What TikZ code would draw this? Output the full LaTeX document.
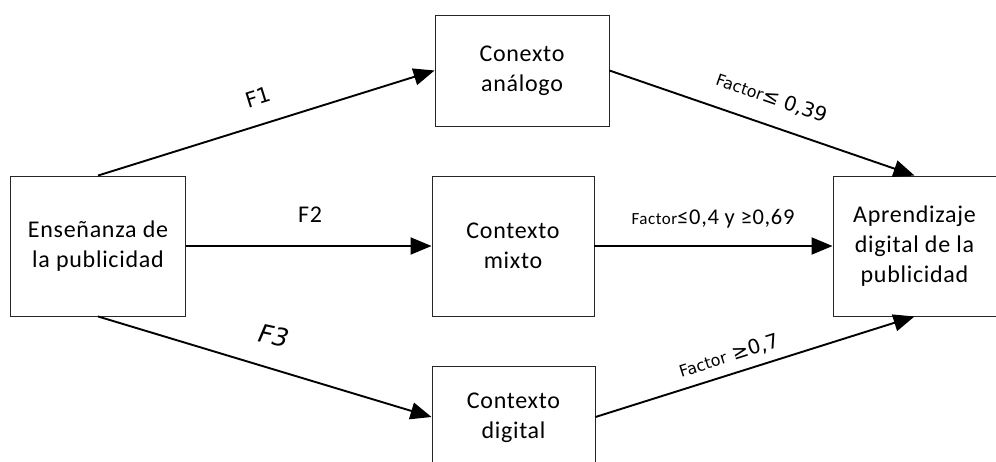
\documentclass[tikz,border=0pt]{standalone}
\usepackage{fontspec}
\setmainfont{Carlito}[LetterSpace=3]
\newfontfamily\dejavu{DejaVu Sans}
\usetikzlibrary{arrows.meta}
\tikzset{
  frame/.style={draw=black!85, line width=0.9pt, inner sep=0pt},
  btext/.style={align=center, inner sep=0pt, font=\fontsize{24}{30}\selectfont},
  box/.style={frame, btext},
  flow/.style={line width=1.9pt, -{Triangle[length=21pt,width=17pt]}},
  lbl/.style={inner sep=0pt, font=\fontsize{24}{26}\selectfont},
  dlbl/.style={inner sep=0pt, font=\dejavu\fontsize{20}{22}\selectfont},
}
\newcommand{\smallfactor}[1]{{\fontsize{#1}{20}\selectfont Factor}}
\begin{document}
\begin{tikzpicture}[x=1pt,y=-1pt]
  \useasboundingbox (0,0) rectangle (996,461);
  \begin{scope}
    \clip (0,0) rectangle (996,461);
    \node[box, minimum width=175pt, minimum height=140pt] (L) at (98,246) {Enseñanza de\\la publicidad};
    \node[box, minimum width=174pt, minimum height=111pt] (T) at (522,70.5) {Conexto\\análogo};
    \node[box, minimum width=162pt, minimum height=140pt] (M) at (513,246) {Contexto\\mixto};
    \node[frame, minimum width=163pt, minimum height=102pt] (B) at (513.5,417) {};
    \node[btext] (Btext) at (513.5,418) {Contexto\\digital};
    \node[box, minimum width=163pt, minimum height=140pt] (R) at (914.5,246) {Aprendizaje\\digital de la\\publicidad};
  \end{scope}

  \draw[flow] (L.north) -- (T.west);
  \draw[flow] (L.east) -- (M.west);
  \draw[flow] (L.south) -- (B.west);
  \draw[flow] (T.east) -- (R.north);
  \draw[flow] (M.east) -- (R.west);
  \draw[flow] (B.east) -- (R.south);

  \node[dlbl, font=\dejavu\fontsize{21}{24}\selectfont, rotate=17.3] (f1) at (258,97) {F1};
  \node[lbl] (f2) at (310,215) {F2};
  \node[dlbl, font=\dejavu\itshape\fontsize{25}{27}\selectfont, rotate=-12] (f3) at (274,336) {F3};
  \node[dlbl, rotate=-19.2] (l1) at (772,98) {\smallfactor{16}≤ 0,39};
  \node[lbl, font=\fontsize{22.5}{24}\selectfont] (l2) at (713,219) {\smallfactor{17}≤0,4 y ≥0,69};
  \node[dlbl, rotate=17.6] (l3) at (729,356) {\smallfactor{16} ≥0,7};
\end{tikzpicture}
\end{document}
